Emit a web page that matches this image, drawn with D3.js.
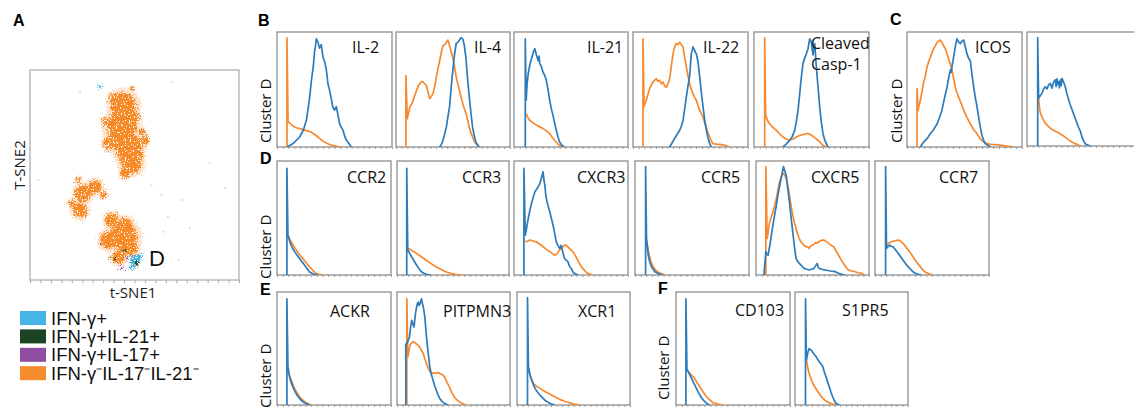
<!DOCTYPE html>
<html>
<head>
<meta charset="utf-8">
<script src="https://cdn.jsdelivr.net/npm/d3@7"></script>
<style>
  body { margin: 0; background: #fff; }
  svg { display: block; }
</style>
</head>
<body>
<svg id="fig" width="1134" height="407"></svg>
<script>
// ---- t-SNE map: blobs [t-SNE1, t-SNE2, radius], arbitrary 0-100 units ----
const tsneOrange = [
  [44.7, 83.3, 6], [39.9, 86.5, 2.4], [43.9, 73.0, 7], [40.7, 77, 2.4], [50.2, 77.8, 2.4],
  [38.3, 65.1, 3.2], [47.0, 63.5, 6.4], [45.5, 58.7, 3.2], [51.8, 59.5, 2.4], [53.4, 70.6, 1.6],
  [48.6, 55.6, 4.8], [45.5, 50.8, 2.4], [35.9, 75.4, 1.6], [55.0, 66.7, 1.9], [49, 91.3, 1],
  [23.9, 33.3, 3.5], [25.5, 41.3, 4], [31.1, 44.4, 3.2], [23.1, 47.6, 1.3], [35.1, 40.5, 1.6], [19.9, 36.5, 1.6],
  [39.1, 28.6, 3.2], [44.7, 20.6, 6.4], [37.5, 19.0, 4], [47.8, 15.9, 4], [42.3, 11.1, 3.2], [45.5, 25.4, 4]
];
const tsneBlue = [[50.2, 9.5, 2.4], [52.6, 11.1, 1.3], [48.6, 6.3, 1.5], [33.5, 92.4, 0.9]];
const tsneGreen = [[51.0, 7.9, 1.1], [45.5, 13.5, 0.6], [33.5, 16.7, 0.5], [37.5, 11.1, 0.5], [40.7, 9.5, 0.5], [43.9, 13.5, 0.4]];
const tsnePurple = [[43.9, 6.0, 0.9], [46.3, 10.3, 0.6]];
const tsneSparse = [
  [4, 47.6], [63, 40.5], [72.6, 38.1], [63.8, 23], [71, 9.5], [76.6, 24.6],
  [67.8, 94.4], [93.3, 43.7], [86, 55.6], [24, 89.7], [58, 45], [66, 30]
];
const legendLabels = ["IFN-γ+", "IFN-γ+IL-21+", "IFN-γ+IL-17+", "IFN-γ⁻IL-17⁻IL-21⁻"];
const legendColors = ["#45b4e6", "#1c4424", "#8e4fa3", "#f68b2c"];

// ---- histograms: [intensity 0-100, % of max] ----
const il2Orange = [[8.7,0],[8.7,95],[9.6,22],[13,19],[16,17],[19.7,16],[25,14.5],[29.6,13],[34,10],[37,7.5],[40,5],[46,2],[52,0.5],[56,0]];
const il2Blue = [[8.7,0],[14,3],[19.7,8.7],[23,15],[25.5,23],[27,33],[28.4,43],[29.9,58],[31.3,68],[32,75],[32.8,84],[33.5,88],[34.2,94],[35.7,91],[37,86],[38.5,89],[40,78],[41.5,74],[42.9,67],[44.3,55],[45.8,49],[47,43],[48.5,35],[50,32],[51.6,35],[53,28],[54.5,20],[56,17],[57.4,14.5],[59,9],[60.3,6],[63,2.3],[64.6,0]];
const il4Orange = [[8.7,0],[8.7,62],[9.9,24.6],[11,30],[12.2,35],[13.5,37],[15.1,40.6],[16.5,45],[18,49],[19.5,53],[20.9,55],[22.3,57],[23.8,56.5],[25.2,55],[26.7,53.6],[28,48],[29.6,42],[31,44],[32.5,46.4],[34,53],[35.4,61],[36.8,68],[38.3,75],[39.7,82],[41.2,88],[42.6,89],[44.1,91],[45.5,93],[47,88],[48.4,83],[49.9,77],[51.3,70],[52.8,61],[54.2,55],[55.7,49],[57.1,43],[58.6,37.7],[60,33],[61.4,29],[62.9,23],[64.3,17],[65.8,12],[67.2,8.7],[68.6,5],[70.1,2.9],[73,0]];
const il4Blue = [[38.3,0],[39.7,2],[41.2,5.8],[42.6,11],[44.1,17],[45.5,26],[47,35],[48.4,52],[49.9,67],[51.3,80],[52.8,90],[54.2,91],[55.7,93],[57.1,95],[58.6,94],[60,88],[61.4,77],[62.9,58],[64.3,43.5],[65.8,29],[67.2,17],[68.6,10],[70.1,4],[73,0]];
const il21Blue = [[9.9,0],[9.9,94],[10.7,40.6],[11.5,55],[12.5,64],[14,72],[15.4,77],[16.8,82],[18.3,85.5],[19.7,80],[21.2,75],[22,79],[22.6,72.5],[24,70],[25.5,65],[27,62],[28.4,58],[29.8,50],[31.3,40.6],[32.8,33],[34.2,27.5],[35.6,21],[37.1,14.5],[38.5,9],[40,4.3],[42,1.5],[44.3,0]];
const il21Orange = [[10.7,29],[12,26],[13.9,23],[16.8,21],[19.7,19],[22.6,17.5],[25.5,16],[28.4,14],[31.3,11.6],[33.5,8.5],[35.7,5.8],[38,3],[40,1.4],[42.9,0]];
const il22Orange = [[8.7,0],[8.7,94],[9.6,35],[10.5,38],[11.6,40.6],[13,46],[14.5,50.7],[16,54],[17.4,56.5],[18.8,58],[20.3,59.4],[21.7,57],[23.2,58],[24.6,55],[26.1,56.5],[27.5,53],[29,52],[30.4,55],[31.9,59.4],[33.3,70],[34.8,81],[36.2,87],[37.7,90],[39.1,89],[40.6,91],[42,89],[43.5,87],[44.9,78],[46.4,69.6],[47.8,62],[49.3,55],[50.7,50],[52.2,46.4],[53.6,43],[55.1,40.6],[56.5,36],[58,32],[59.4,29],[60.9,26],[62.3,21],[63.8,17],[65.2,12],[66.7,8.7],[68.1,5],[69.6,2.9],[72.5,2.5],[75.4,2.3],[80,1.5],[84,0]];
const il22Blue = [[31.9,0],[34.8,5],[37.7,10],[40.6,14.5],[42,18],[43.5,23],[44.9,33],[46.4,43.5],[47.8,53],[49.3,62],[50,72],[50.7,81],[51.5,84],[52.2,87],[53,85],[53.6,84],[54.3,82],[55.1,81],[56.5,74],[58,61],[59.4,48],[60.9,35],[62.3,24],[63.8,14.5],[65.2,8],[66.7,2.9],[68.1,0]];
const caspOrange = [[9.3,0],[9.3,95],[10.1,27.5],[11.8,23],[13.6,20],[16.5,17],[19.4,14.5],[22.3,11.5],[25.2,8.7],[28,7],[31,5.8],[34,7],[36.8,8.7],[39.7,10],[42.6,10.7],[45,11.5],[47,11.6],[49,10.8],[51.3,9.3],[53.5,7.5],[55.7,5.8],[58,3.5],[60,1.4],[62.9,0]];
const caspBlue = [[25.2,0],[28,2.5],[31,5.8],[33.2,9],[35.4,14.5],[36.8,22],[38.3,32],[39.7,46],[41.2,61],[42.6,72.5],[44,77],[45.5,81],[47,85.5],[47.7,90],[48.4,94],[49.2,93],[49.9,91],[50.6,85],[51.3,80],[52,86],[52.8,90],[53.5,80],[54.2,69.6],[55,60],[55.7,52],[56.4,44],[57.1,35],[58.5,22],[60,11.6],[61.5,6],[62.9,2.9],[64.3,0]];
const icosOrange = [[8.7,0],[8.7,50.7],[9.6,32],[10.5,36],[11.6,40.6],[13,48],[14.5,56.5],[16,62],[17.4,69.6],[18.8,74],[20.3,78],[21.7,82],[23.2,85.5],[24.6,88],[26.1,91],[27.5,92],[29,93],[30.4,91],[31.8,88],[33.3,85.5],[34.8,81],[36.2,77],[37.7,72],[39.1,67],[40.5,60],[42,52],[43.5,47],[44.9,43.5],[47,38],[49.3,32],[52,26],[55.1,20],[58,15],[60.9,11.6],[63.8,7],[66.7,4.3],[69.6,3],[72.5,2.3],[78.3,2],[85,1],[92.8,0]];
const icosBlue = [[11.6,0],[13.5,3],[15.9,5.8],[18,8],[20.3,11.6],[23,15],[26.1,20],[28,25],[30.4,32],[32.5,42],[34.8,52],[36.2,60],[37.7,67],[38.4,65],[39.1,69.6],[40.5,78],[42,87],[42.7,91],[43.5,94],[45,91],[46.4,90],[47.8,92],[49.3,93],[50.7,87],[52.2,81],[53.6,77],[55.1,75],[56.5,63],[58,52],[59.4,43],[60.9,35],[62.3,26],[63.8,17],[65.2,10],[66.7,5.8],[68,3],[69.6,2],[72.5,0]];
const c2Blue = [[9.3,0],[9.3,95],[10.1,42],[11.5,44],[13,46.4],[14.4,50],[15.9,52],[17.3,50],[18.8,53.6],[20.2,55],[21.7,50.7],[23.1,56],[24.6,58],[25.3,52],[26,59],[26.8,54],[27.5,56.5],[28.2,51],[29,58],[29.7,53],[30.4,59.4],[31.8,56],[33.3,52],[34.7,46],[36.2,40.6],[37.6,36],[39.1,32],[41.3,26],[43.5,20],[45,16],[46.4,13],[47.8,8],[49.3,4.3],[50.7,2],[52.2,1],[55.1,0]];
const c2Orange = [[10.1,42],[11,32],[11.6,29],[13.7,24],[15.9,20],[18.8,17],[21.7,14.5],[24.6,13],[27.5,11.6],[29.7,10],[31.9,8.7],[34.8,6.5],[37.7,4.3],[40.6,2.5],[43.5,1.4],[46.4,0]];
const ccr2Blue = [[8.7,0],[8.7,93.6],[9.6,35],[11,30],[12.5,26],[14,23],[15.4,20.5],[17.5,17.5],[19.7,14.6],[22,11.5],[24.1,8.8],[26.2,5.8],[28.4,2.9],[30.6,1.5],[32.8,0.6],[35.7,0]];
const ccr2Orange = [[9.6,35],[11,32],[12.5,29],[14.6,25.5],[16.8,22],[19.7,18],[22.6,14.6],[25.5,11],[28.4,7.3],[31.3,4.3],[34.2,1.5],[37,0.5],[40,0]];
const ccr3Blue = [[8.7,0],[8.7,93.6],[9.6,22],[11.3,19],[13,16],[15.2,12.5],[17.4,8.8],[19.5,5.8],[21.7,2.9],[24,1.5],[26.1,0.6],[30.4,0]];
const ccr3Orange = [[9.6,23.4],[13.5,21.2],[17.4,19],[21.7,16],[26.1,13],[30.4,10],[34.8,7.3],[39.1,5],[43.5,2.9],[47.8,1.5],[52.2,0.6],[58,0]];
const cxcr3Blue = [[8.7,0],[8.7,93.6],[9.9,35],[11.2,42],[12.5,49.7],[14,57],[15.4,63],[16.8,68],[18.3,73],[19.7,75],[21.2,77.5],[22.6,80],[24.1,85],[24.8,88],[25.5,90.6],[26.2,84],[27,79],[27.7,72],[28.4,67],[29.8,61],[31.3,55.6],[32.7,50],[34.2,44],[35.6,37],[37.1,29],[38.5,26],[40,23.4],[40.7,25],[41.4,26],[42.8,20],[44.3,14.6],[45.7,13],[47.2,11.7],[48.6,8],[50.1,5.8],[51.5,3],[53,1.5],[55.9,0]];
const cxcr3Orange = [[9.9,29.2],[11.9,29.5],[13.9,30.7],[16.8,29.8],[19.7,29],[22.6,27],[25.5,24.8],[28.4,22.5],[31.3,20.5],[33.5,19],[35.7,17.5],[37.8,18.5],[40,22],[42.1,24],[44.3,26.3],[45.7,26],[47.2,24.8],[49.4,22.5],[51.6,20.5],[53.8,17],[55.9,13],[58,9],[60.3,5.8],[62.4,3.5],[64.6,1.5],[69,0]];
const ccr5Blue = [[9.3,0],[9.3,95],[10.1,32],[11.6,17.5],[13,11],[14.5,7.3],[17.4,2.9],[21.7,0.6],[24.6,0]];
const ccr5Orange = [[10.1,30.7],[11.3,24],[12.5,17.5],[14.2,11],[15.9,7.3],[18,4.5],[20.3,2.3],[26.1,0]];
const cxcr5Orange = [[8.7,0],[8.7,95],[9.9,32],[11,40],[12.2,47],[13.6,51],[15.1,55.6],[16.5,61],[18,67],[19.5,75],[20.9,82],[22.3,86],[23.8,89],[25.2,88],[26.7,85],[28.2,78],[29.6,70],[31,61],[32.5,52.6],[34,46],[35.4,41],[36.8,36],[38.3,32],[39.7,29],[41.2,27.8],[42.6,26],[44.1,24.8],[45.5,25],[47,23.4],[48.4,25.5],[49.9,26.3],[51.3,27],[52.8,28.5],[54.2,28],[55.7,29.2],[57.8,30.5],[60,30.7],[62.1,29.5],[64.3,27.8],[66.5,26],[68.7,24.8],[70.8,21],[73,17.5],[75.2,13.5],[77.4,10.2],[79.5,7],[81.7,4.4],[84.6,3.5],[87.5,2.9],[90.4,2],[93.3,1.5],[96.2,0]];
const cxcr5Blue = [[7,0],[8.7,20.5],[9.7,18],[10.7,17.5],[12.1,25],[13.6,35],[15,44],[16.5,52.6],[18,61],[19.4,70],[20.9,78],[22.3,85],[23.3,90],[24.3,95],[25.5,91],[26.7,87.7],[28.1,76],[29.6,64],[31,51],[32.5,38],[34,25],[35.4,14.6],[36.8,12],[38.3,10.2],[40.4,8],[42.6,5.8],[44.8,5],[47,4.4],[49.1,5],[51.3,5.8],[52.7,8],[54.2,10.2],[55,7],[55.7,5.8],[58.5,5],[61.4,4.4],[65.8,3.5],[70.1,2.9],[73,1.5],[75.9,0.6],[78.8,0]];
const ccr7Blue = [[9.3,0],[9.3,95],[10.1,23.4],[11.5,25],[13,26.3],[14.5,25],[15.9,24.8],[18.1,22],[20.3,19],[22.5,16],[24.6,13],[26.8,10],[29,7.3],[31.2,5],[33.3,2.9],[35.5,1.5],[37.7,0.6],[40.6,0]];
const ccr7Orange = [[10.1,26.3],[12.3,28],[14.5,29.2],[17.4,30],[20.3,30.7],[22.5,29.5],[24.6,27.8],[27.5,24],[30.4,20.5],[33.3,16],[36.2,11.7],[39.1,8],[42,4.4],[44.2,2.5],[46.4,1.5],[50.7,0]];
const ackrBlue = [[8.7,0],[8.7,94],[9.6,34],[11,25],[12.4,20],[13.9,16],[15.3,13],[16.8,10],[18.2,8],[19.7,5.9],[22,3.5],[24,2],[28.4,0]];
const ackrOrange = [[9.6,31],[11,26],[12.5,22],[14,18],[15.4,14.7],[17.5,11],[19.7,7.3],[22,5],[24.1,3],[27,1.2],[29.9,0]];
const pitpmn3Orange = [[8.7,0],[8.7,94],[9.6,42.6],[10.6,48],[11.6,53],[13,55],[14.5,56],[16,55],[17.4,54],[18.8,52.5],[20.3,51],[21.7,48],[23.2,45.6],[24.6,41],[26.1,36.8],[27.5,33],[29,29.4],[30.4,28.5],[31.9,28],[33.3,28.5],[34.8,28],[36.2,28.8],[37.7,28],[39.8,27],[42,25],[44.2,20],[46.4,16],[48.5,11],[50.7,7.3],[52.9,4.5],[55.1,3],[58,1.2],[60.9,0]];
const pitpmn3Blue = [[7.8,0],[7.8,54],[8.7,54],[9.8,57],[11,60],[12,68],[13,75],[14,72],[15.1,69],[16.2,80],[17.4,87],[18.1,90],[18.8,91],[19.5,88],[20.3,89.7],[21,92],[21.7,94],[22.4,90],[23.2,87],[23.9,83],[24.6,78],[25.3,70],[26.1,60],[27.5,47],[29,34],[30.4,27],[31.9,22],[33.3,17],[34.8,13],[36.2,9],[37.7,6],[40,3],[42,1.5],[44.9,0]];
const xcr1Blue = [[9.3,0],[9.3,95],[10.1,34],[11.5,27],[13,22],[14.5,18],[15.9,14.7],[18.1,11.5],[20.3,8.8],[22.5,6.5],[24.6,4.4],[26.8,2.8],[29,1.5],[33.3,0]];
const xcr1Orange = [[10.1,31],[12.3,24],[14.5,19],[17.4,16.5],[20.3,14.7],[24.6,12],[29,9.7],[33.3,7.3],[37.7,5],[42,3.3],[46.4,2],[50.7,0.8],[55.1,0]];
const cd103Blue = [[8.7,0],[8.7,94],[9.6,32],[10.9,29],[12.2,26.5],[14.3,22],[16.5,17.6],[18.7,13],[20.9,8.8],[23,5.5],[25.2,3],[27.4,1.2],[29.6,0]];
const cd103Orange = [[9.6,31],[12.3,28],[15.1,25],[18,20.5],[20.9,16],[23.8,11.5],[26.7,7.3],[29.6,4.5],[32.5,2],[36.8,0.8],[41.2,0]];
const s1pr5Blue = [[9.3,0],[9.3,94],[10.1,39.7],[11.3,46],[12.5,50],[13.5,49],[14.5,48.5],[15.5,47],[16.5,45.6],[17.6,44],[18.8,42.6],[20.3,40],[21.7,38],[23.2,36],[24.6,34],[26,29],[27.5,25],[29,20],[30.4,16],[31.9,11],[33.3,7.3],[34.8,4],[36.2,1.5],[39.1,0]];
const s1pr5Orange = [[10.1,39.7],[11.3,33],[12.5,28],[14.2,23],[15.9,19],[18.1,15],[20.3,11.7],[22.5,8.5],[24.6,5.9],[27.5,3.5],[30.4,2],[33.3,0.8],[36.2,0]];

const BLUE = "#2c7bbb", ORANGE = "#f7882d";
const svg = d3.select("#fig");

// panel layout (box position in px, label offset)
const panels = [
  { label: ["IL-2"], blue: il2Blue, orange: il2Orange, x: 277, y: 32, w: 115, h: 115, lx: 75, ly: 21 },
  { label: ["IL-4"], blue: il4Blue, orange: il4Orange, x: 396, y: 32, w: 114, h: 115, lx: 78, ly: 21 },
  { label: ["IL-21"], blue: il21Blue, orange: il21Orange, x: 514, y: 32, w: 114, h: 115, lx: 73, ly: 21 },
  { label: ["IL-22"], blue: il22Blue, orange: il22Orange, x: 633, y: 32, w: 115, h: 115, lx: 70, ly: 21 },
  { label: ["Cleaved", "Casp-1"], blue: caspBlue, orange: caspOrange, x: 754, y: 32, w: 115, h: 115, lx: 57, ly: 17 },
  { label: ["ICOS"], blue: icosBlue, orange: icosOrange, x: 907, y: 32, w: 115, h: 115, lx: 68, ly: 21 },
  { label: [], blue: c2Blue, orange: c2Orange, x: 1027, y: 32, w: 115, h: 114, lx: 0, ly: 21 },
  { label: ["CCR2"], blue: ccr2Blue, orange: ccr2Orange, x: 277, y: 161, w: 114, h: 114, lx: 70, ly: 22 },
  { label: ["CCR3"], blue: ccr3Blue, orange: ccr3Orange, x: 397, y: 161, w: 112, h: 114, lx: 65, ly: 22 },
  { label: ["CXCR3"], blue: cxcr3Blue, orange: cxcr3Orange, x: 514, y: 161, w: 114, h: 114, lx: 63, ly: 22 },
  { label: ["CCR5"], blue: ccr5Blue, orange: ccr5Orange, x: 635, y: 161, w: 114, h: 114, lx: 66, ly: 22 },
  { label: ["CXCR5"], blue: cxcr5Blue, orange: cxcr5Orange, x: 756, y: 161, w: 113, h: 114, lx: 55, ly: 22 },
  { label: ["CCR7"], blue: ccr7Blue, orange: ccr7Orange, x: 875, y: 161, w: 114, h: 114, lx: 64, ly: 22 },
  { label: ["ACKR"], blue: ackrBlue, orange: ackrOrange, x: 277, y: 292, w: 114, h: 113, lx: 53, ly: 25 },
  { label: ["PITPMN3"], blue: pitpmn3Blue, orange: pitpmn3Orange, x: 397, y: 292, w: 113, h: 113, lx: 46, ly: 25 },
  { label: ["XCR1"], blue: xcr1Blue, orange: xcr1Orange, x: 517, y: 292, w: 113, h: 113, lx: 61, ly: 25 },
  { label: ["CD103"], blue: cd103Blue, orange: cd103Orange, x: 676, y: 292, w: 114, h: 113, lx: 59, ly: 24 },
  { label: ["S1PR5"], blue: s1pr5Blue, orange: s1pr5Orange, x: 795, y: 292, w: 113, h: 113, lx: 47, ly: 24 }
];

panels.forEach((p, i) => {
  const x = d3.scaleLinear().domain([0, 100]).range([0, p.w]);
  const y = d3.scaleLinear().domain([0, 100]).range([p.h, 0]);
  const g = svg.append("g").attr("transform", `translate(${p.x},${p.y})`);

  g.append("clipPath").attr("id", "clip" + i)
    .append("rect").attr("width", p.w).attr("height", p.h);

  g.append("rect")
    .attr("width", p.w).attr("height", p.h)
    .attr("fill", "#fff").attr("stroke", "#8e8e8e").attr("stroke-width", 1.3);

  g.append("g")
    .attr("transform", `translate(0,${p.h})`)
    .call(d3.axisBottom(x).ticks(30).tickSize(2).tickFormat(""))
    .call(a => a.select(".domain").remove())
    .call(a => a.selectAll("line").attr("stroke", "#9a9a9a"));

  const line = d3.line().x(d => x(d[0])).y(d => y(d[1]));
  const curves = g.append("g").attr("clip-path", `url(#clip${i})`);
  curves.append("path").datum(p.orange)
    .attr("d", line).attr("fill", "none").attr("stroke", ORANGE)
    .attr("stroke-width", 1.7).attr("stroke-linejoin", "round");
  curves.append("path").datum(p.blue)
    .attr("d", line).attr("fill", "none").attr("stroke", BLUE)
    .attr("stroke-width", 1.7).attr("stroke-linejoin", "round");

  p.label.forEach((t, k) => {
    g.append("text")
      .attr("x", p.lx).attr("y", p.ly + k * 21)
      .attr("font-family", "Open Sans").attr("font-size", 16)
      .attr("fill", "#111").text(t);
  });
});

// "Cluster D" y labels
[[271, 143], [902, 143], [271, 279], [271, 408], [669, 400]].forEach(([bx, by]) => {
  svg.append("text")
    .attr("transform", `translate(${bx},${by}) rotate(-90)`)
    .attr("font-family", "Open Sans").attr("font-size", 15)
    .attr("fill", "#111").text("Cluster D");
});

// panel letters
[["A", 13, 26], ["B", 258, 26], ["C", 890, 25], ["D", 260, 164], ["E", 260, 295], ["F", 658, 294]]
  .forEach(([t, lx, ly]) => {
    svg.append("text").attr("x", lx).attr("y", ly)
      .attr("font-family", "Liberation Sans").attr("font-weight", "bold")
      .attr("font-size", 16).attr("fill", "#000").text(t);
  });

// ---- panel A: t-SNE ----
const tx = d3.scaleLinear().domain([0, 100]).range([30, 239]);
const ty = d3.scaleLinear().domain([0, 100]).range([280, 70]);
const rpx = r => tx(r) - tx(0);

const defs = svg.append("defs");
const f = defs.append("filter").attr("id", "speckle")
  .attr("x", "-30%").attr("y", "-30%").attr("width", "160%").attr("height", "160%");
f.append("feTurbulence").attr("type", "fractalNoise").attr("baseFrequency", 0.75)
  .attr("numOctaves", 2).attr("seed", 7).attr("result", "noise");
f.append("feDisplacementMap").attr("in", "SourceGraphic").attr("in2", "noise")
  .attr("scale", 10).attr("xChannelSelector", "R").attr("yChannelSelector", "G").attr("result", "moved");
f.append("feComponentTransfer").attr("in", "noise").attr("result", "mask")
  .append("feFuncA").attr("type", "discrete").attr("tableValues", "0 0 1 1 1 1");
f.append("feComposite").attr("in", "moved").attr("in2", "mask").attr("operator", "in");

const ta = svg.append("g");
ta.append("rect").attr("x", 30).attr("y", 70).attr("width", 209).attr("height", 210)
  .attr("fill", "#fff").attr("stroke", "#a8a8a8").attr("stroke-width", 1.2);
ta.append("g").attr("transform", "translate(0,280)")
  .call(d3.axisBottom(tx).ticks(16).tickSize(3).tickFormat(""))
  .call(a => a.select(".domain").remove())
  .call(a => a.selectAll("line").attr("stroke", "#aaa"));

ta.append("g").attr("opacity", 0.35).attr("filter", "url(#speckle)")
  .selectAll("circle").data(tsneOrange).join("circle")
  .attr("cx", d => tx(d[0])).attr("cy", d => ty(d[1])).attr("r", d => rpx(d[2]) * 1.4)
  .attr("fill", "#f8a55c");
ta.append("g").attr("filter", "url(#speckle)")
  .selectAll("circle").data(tsneOrange).join("circle")
  .attr("cx", d => tx(d[0])).attr("cy", d => ty(d[1])).attr("r", d => rpx(d[2]))
  .attr("fill", legendColors[3]);
ta.append("g").selectAll("circle").data(tsneSparse).join("circle")
  .attr("cx", d => tx(d[0])).attr("cy", d => ty(d[1])).attr("r", 1.1)
  .attr("fill", "#f8b07a").attr("opacity", 0.6);

[[tsneBlue, 0], [tsneGreen, 1], [tsnePurple, 2]].forEach(([pts, ci]) => {
  ta.append("g").attr("filter", "url(#speckle)")
    .selectAll("circle").data(pts).join("circle")
    .attr("cx", d => tx(d[0])).attr("cy", d => ty(d[1])).attr("r", d => rpx(d[2]))
    .attr("fill", legendColors[ci]);
});

ta.append("text").attr("x", 149).attr("y", 266)
  .attr("font-family", "Liberation Sans").attr("font-size", 22).attr("fill", "#111").text("D");

ta.append("text").attr("x", 133).attr("y", 298).attr("text-anchor", "middle")
  .attr("font-family", "Open Sans").attr("font-size", 15).attr("fill", "#222").text("t-SNE1");
ta.append("text").attr("transform", "translate(25,165) rotate(-90)").attr("text-anchor", "middle")
  .attr("font-family", "Open Sans").attr("font-size", 15).attr("fill", "#222").text("T-SNE2");

// legend
const lg = svg.append("g");
legendLabels.forEach((t, i) => {
  const cy = 318 + i * 18.4;
  lg.append("rect").attr("x", 20).attr("y", cy - 7).attr("width", 26).attr("height", 14)
    .attr("fill", legendColors[i]);
  lg.append("text").attr("x", 51).attr("y", cy + 6.5)
    .attr("font-family", "Liberation Sans").attr("font-size", 18.5).attr("fill", "#111")
    .text(t);
});
</script>
</body>
</html>
